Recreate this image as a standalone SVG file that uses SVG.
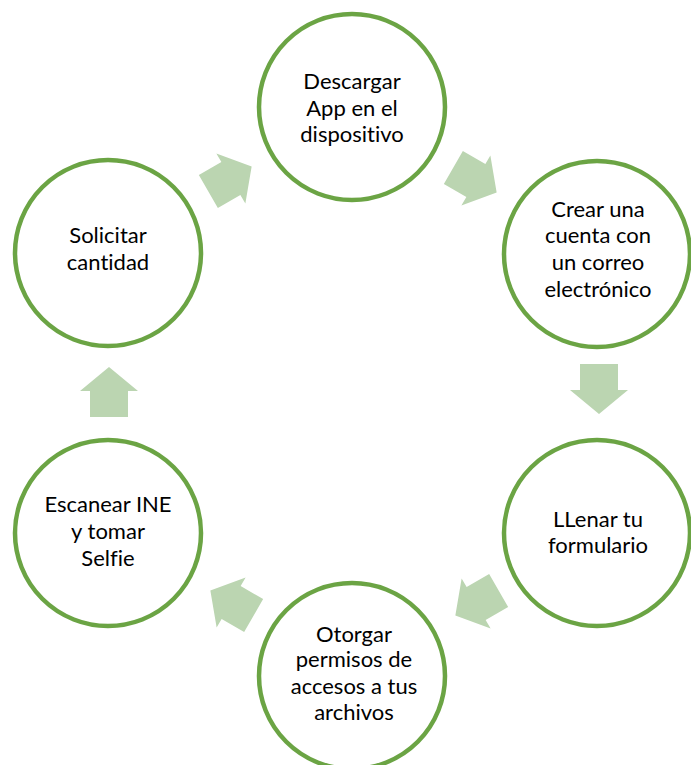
<svg xmlns="http://www.w3.org/2000/svg" width="691" height="765" viewBox="0 0 691 765">
<defs>
<style>
.node circle{fill:#ffffff;stroke:#6BA444;stroke-width:4.5}
.node text{font-family:Lato,"Open Sans","Liberation Sans",sans-serif;font-size:22px;fill:#000000;text-anchor:middle;font-variant-ligatures:none;font-feature-settings:"liga" 0}
.arr{fill:#BBD5B1}
</style>
<path id="arrow" d="M-25,-19 L1,-19 L1,-29 L25,0 L1,29 L1,19 L-25,19 Z"/>
</defs>
<rect width="691" height="765" fill="#ffffff"/>
<g id="connectors">
<use href="#arrow" class="arr" transform="translate(230,179) rotate(-30)"/>
<use href="#arrow" class="arr" transform="translate(475,180) rotate(30)"/>
<use href="#arrow" class="arr" transform="translate(599,389) rotate(90)"/>
<use href="#arrow" class="arr" transform="translate(477,603) rotate(150)"/>
<use href="#arrow" class="arr" transform="translate(232,603) rotate(210)"/>
<use href="#arrow" class="arr" transform="translate(109,392) rotate(-90)"/>
</g>
<g id="node1" class="node">
<circle cx="352" cy="107" r="93"/>
<text x="352" y="89">Descargar</text>
<text x="352" y="116">App en el</text>
<text x="352" y="142">dispositivo</text>
</g>
<g id="node2" class="node">
<circle cx="597" cy="254" r="93"/>
<text x="598" y="217">Crear una</text>
<text x="598" y="243">cuenta con</text>
<text x="598" y="270">un correo</text>
<text x="598" y="297">electrónico</text>
</g>
<g id="node3" class="node">
<circle cx="597" cy="533" r="93"/>
<text x="598" y="527">LLenar tu</text>
<text x="598" y="553">formulario</text>
</g>
<g id="node4" class="node">
<circle cx="352" cy="676" r="93"/>
<text x="354" y="642">Otorgar</text>
<text x="354" y="667">permisos de</text>
<text x="354" y="694">accesos a tus</text>
<text x="354" y="720">archivos</text>
</g>
<g id="node5" class="node">
<circle cx="108" cy="533" r="93"/>
<text x="108" y="512">Escanear INE</text>
<text x="108" y="539">y tomar</text>
<text x="108" y="566">Selfie</text>
</g>
<g id="node6" class="node">
<circle cx="108" cy="253" r="93"/>
<text x="108" y="243">Solicitar</text>
<text x="108" y="270">cantidad</text>
</g>
</svg>
